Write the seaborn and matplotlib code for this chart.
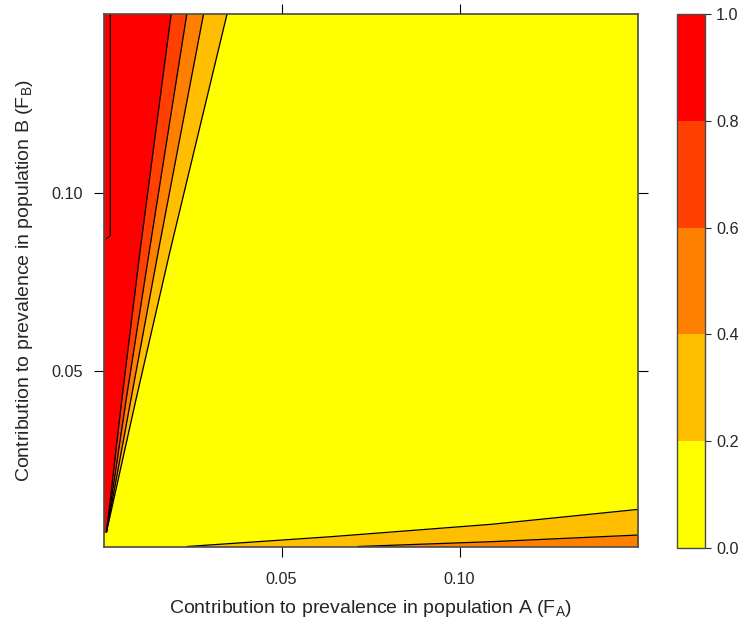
import numpy as np
import matplotlib
matplotlib.use("Agg")
import matplotlib.pyplot as plt
import seaborn as sns
from matplotlib.colors import ListedColormap, BoundaryNorm
from matplotlib.cm import ScalarMappable

# ---- data ----
levels = [0.0, 0.2, 0.4, 0.6, 0.8, 1.0]
level_colors = ["#FFFF00", "#FFBF00", "#FF8000", "#FF4000", "#FF0000"]

# upper-left boundaries: x position of each level line at given F_B values
ul_y = [0.00505, 0.0419, 0.0838, 0.15]
ul_x_02 = [0.00084, 0.00907, 0.01872, 0.0347]
ul_x_04 = [0.00084, 0.00766, 0.01543, 0.0281]
ul_x_06 = [0.00084, 0.00633, 0.01289, 0.0234]
ul_x_08 = [0.00084, 0.00512, 0.01028, 0.0190]

# level 1.0 contour near the left edge
l10_x = [0.00191, 0.00191, 0.00079]
l10_y = [0.15, 0.0880, 0.0871]

# lower-right boundaries: F_B of each level line at given F_A values
lr_x_02 = [0.0235, 0.0638, 0.075, 0.1088, 0.1502]
lr_y_02 = [0.0010, 0.00374, 0.00460, 0.0072, 0.01139]
lr_x_04 = [0.0714, 0.1088, 0.1502]
lr_y_04 = [0.0010, 0.00234, 0.00421]

xlim = (0.0, 0.15)
ylim = (0.001, 0.15)
xticks = [0.05, 0.10]
yticks = [0.05, 0.10]
tick_labels = ["0.05", "0.10"]
cbar_ticks = [0.0, 0.2, 0.4, 0.6, 0.8, 1.0]

# ---- style ----
sns.set_theme(style="ticks")
plt.rcParams["font.family"] = ["Liberation Sans", "DejaVu Sans"]
plt.rcParams["mathtext.fontset"] = "custom"
plt.rcParams["mathtext.rm"] = "Liberation Sans"

W, H = 748, 626
fig = plt.figure(figsize=(W / 100, H / 100), dpi=100)
fig.patch.set_facecolor("white")

left, right, top, bottom = 103.5, 637.5, 14, 546.5
ax = fig.add_axes([left / W, 1 - bottom / H, (right - left) / W, (bottom - top) / H])
ax.set_xlim(*xlim)
ax.set_ylim(*ylim)
ax.set_facecolor(level_colors[0])

lw = 0.9
# upper-left bands
ax.fill_betweenx(ul_y, xlim[0], ul_x_02, color=level_colors[1], lw=0)
ax.fill_betweenx(ul_y, xlim[0], ul_x_04, color=level_colors[2], lw=0)
ax.fill_betweenx(ul_y, xlim[0], ul_x_06, color=level_colors[3], lw=0)
ax.fill_betweenx(ul_y, xlim[0], ul_x_08, color=level_colors[4], lw=0)
for xs in (ul_x_02, ul_x_04, ul_x_06, ul_x_08):
    ax.plot(xs, ul_y, color="black", lw=lw)
ax.plot(l10_x, l10_y, color="black", lw=lw)

# lower-right bands
ax.fill_between(lr_x_02, ylim[0], lr_y_02, color=level_colors[1], lw=0)
ax.fill_between(lr_x_04, ylim[0], lr_y_04, color=level_colors[2], lw=0)
ax.plot(lr_x_02, lr_y_02, color="black", lw=lw)
ax.plot(lr_x_04, lr_y_04, color="black", lw=lw)

frame_col = "#4a4a4a"
for s in ax.spines.values():
    s.set_color(frame_col)
    s.set_linewidth(1.2)
    s.set_zorder(5)

fs_tick = 11.7
ax.set_xticks(xticks)
ax.set_xticklabels(tick_labels)
ax.set_yticks(yticks)
ax.set_yticklabels(tick_labels)
ax.tick_params(axis="both", which="both", direction="out", length=7, width=0.8,
               color="black", labelsize=fs_tick,
               top=True, right=True, labeltop=False, labelright=False)
ax.tick_params(axis="x", pad=11)
ax.tick_params(axis="y", pad=7.5)

ax.set_xlabel(r"Contribution to prevalence in population A (F$_\mathregular{A}$)",
              fontsize=14, labelpad=8.5)
ax.set_ylabel(r"Contribution to prevalence in population B (F$_\mathregular{B}$)",
              fontsize=14, labelpad=12)

# ---- colour key ----
cax = fig.add_axes([677 / W, 1 - 548 / H, 28 / W, (548 - 14) / H])
cmap = ListedColormap(level_colors)
norm = BoundaryNorm(levels, cmap.N)
cb = fig.colorbar(ScalarMappable(norm=norm, cmap=cmap), cax=cax, ticks=cbar_ticks)
cb.ax.set_yticklabels([f"{t:.1f}" for t in cbar_ticks])
cb.outline.set_edgecolor(frame_col)
cb.outline.set_linewidth(1.0)
cb.ax.tick_params(direction="out", length=4.5, width=0.8, labelsize=fs_tick, pad=3.5)

fig.savefig("out.png", dpi=100)
